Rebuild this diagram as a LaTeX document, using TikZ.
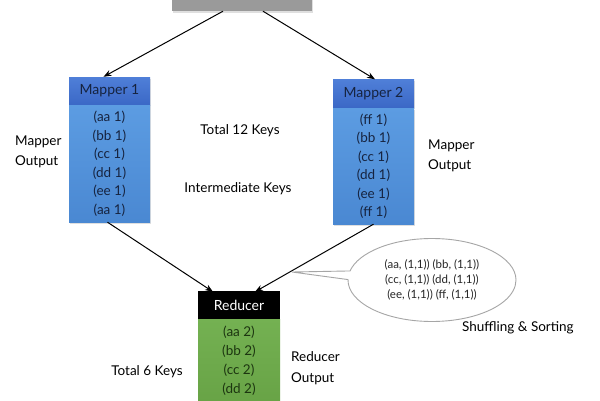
\documentclass[tikz,border=0pt]{standalone}
\usepackage{fontspec}
\setmainfont{Lato}
\usetikzlibrary{arrows.meta,shapes.callouts,shadows}
\definecolor{hdrblue}{HTML}{3B68C6}
\definecolor{hdrblueT}{HTML}{4F7FD8}
\definecolor{bodyblueT}{HTML}{5C9CE2}
\definecolor{bodyblueB}{HTML}{4A88D2}
\definecolor{navy}{HTML}{16233F}
\definecolor{greenT}{HTML}{74B152}
\definecolor{greenB}{HTML}{68A346}
\definecolor{dkgreen}{HTML}{1C3510}
\definecolor{srcgray}{HTML}{9A9A9A}
\tikzset{
  hdrbox/.style={draw=none, top color=hdrblueT, bottom color=hdrblue, text=navy,
    minimum width=81pt, minimum height=28pt, inner sep=0pt, font=\fontsize{14}{16}\selectfont,
    drop shadow={opacity=0.25, shadow xshift=1pt, shadow yshift=-1.5pt}},
  bodybox/.style={draw=none, top color=bodyblueT, bottom color=bodyblueB, text=navy,
    minimum width=81pt, inner sep=0pt, align=center, font=\fontsize{13.5}{18.5}\selectfont,
    drop shadow={opacity=0.25, shadow xshift=1pt, shadow yshift=-1.5pt}},
  redhdr/.style={draw=none, fill=black, text=white, minimum width=82pt, minimum height=28pt,
    inner sep=0pt, font=\fontsize{14}{16}\selectfont},
  redbody/.style={draw=none, top color=greenT, bottom color=greenB, text=dkgreen,
    minimum width=82pt, inner sep=0pt, align=center, font=\fontsize{13.5}{19}\selectfont},
  lbl/.style={inner sep=0pt, font=\fontsize{13.5}{20}\selectfont, align=left},
  arr/.style={-{Stealth[length=8pt,width=6pt]}, line width=1pt, black},
}
\begin{document}
\begin{tikzpicture}[x=1pt,y=-1pt]
\clip (0,0) rectangle (600,400);
\fill[white] (0,0) rectangle (600,400);
% source box
\node[draw=none, fill=srcgray, minimum width=140pt, minimum height=32pt, inner sep=0pt,
  drop shadow={opacity=0.25, shadow xshift=1pt, shadow yshift=-1.5pt}] (src) at (242,-5) {};
% mapper 1
\node[hdrbox] (m1h) at (109.5,91) {Mapper 1};
\node[bodybox, minimum height=117pt] (m1b) at (109.5,163.5) {(aa 1)\\(bb 1)\\(cc 1)\\(dd 1)\\(ee 1)\\(aa 1)};
% mapper 2
\node[hdrbox] (m2h) at (373.5,93.5) {Mapper 2};
\node[bodybox, minimum height=116pt] (m2b) at (373.5,166) {(ff 1)\\(bb 1)\\(cc 1)\\(dd 1)\\(ee 1)\\(ff 1)};
% reducer
\node[redhdr] (rh) at (239,305) {Reducer};
\node[redbody, minimum height=83pt] (rb) at (239,360.5) {(aa 2)\\(bb 2)\\(cc 2)\\(dd 2)};
% arrows
\draw[arr] ([xshift=-19pt]src.south) -- ([xshift=-6pt]m1h.north);
\draw[arr] ([xshift=21pt]src.south) -- ([xshift=1.5pt]m2h.north);
\draw[arr] ([xshift=-2pt]m1b.south) -- ([xshift=-26pt,yshift=-1pt]rh.north);
\draw[arr] (m2b.south) -- ([xshift=16pt,yshift=-1pt]rh.north);
% callout
\coordinate (tip) at (292,272);
\node[ellipse callout, draw=gray!70, line width=0.9pt, fill=white, minimum width=168pt, minimum height=83pt,
  inner sep=0pt, align=center, font=\fontsize{11.5}{15}\selectfont, text=black!85,
  callout absolute pointer={(tip)}, callout pointer arc=12] (bubble) at (432,280)
  {(aa, (1,1)) (bb, (1,1))\\(cc, (1,1)) (dd, (1,1))\\(ee, (1,1)) (ff, (1,1))};
% labels
\node[lbl, anchor=west] (lmo) at (15,152) {Mapper\\Output};
\node[lbl, anchor=west] (rmo) at (428,155.5) {Mapper\\Output};
\node[lbl] (t12) at (240,131) {Total 12 Keys};
\node[lbl] (ik) at (238,189) {Intermediate Keys};
\node[lbl, anchor=west] (ss) at (462,328) {Shuffling \& Sorting};
\node[lbl] (t6) at (147,372) {Total 6 Keys};
\node[lbl, anchor=west, font=\fontsize{13.5}{21}\selectfont] (ro) at (291,368.5) {Reducer\\Output};
\end{tikzpicture}
\end{document}
